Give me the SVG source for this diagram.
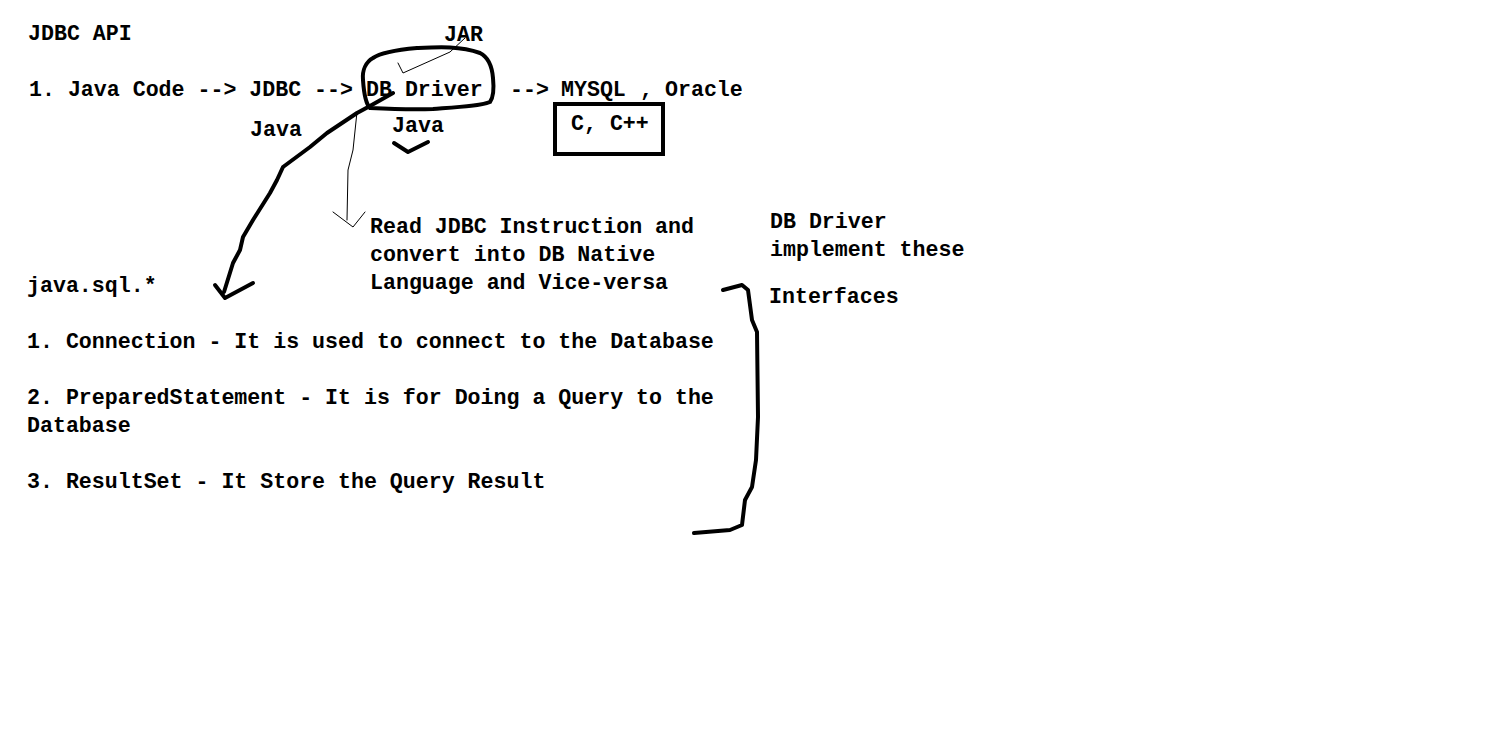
<svg xmlns="http://www.w3.org/2000/svg" width="1508" height="742" viewBox="0 0 1508 742">
<style>
  text { font-family: "Liberation Mono", "DejaVu Sans Mono", monospace; font-size: 21.6px; font-weight: bold; fill: #000; }
  .ink { fill: none; stroke: #000; stroke-width: 4; stroke-linecap: round; stroke-linejoin: round; }
  .thin { fill: none; stroke: #000; stroke-width: 1; stroke-linecap: round; stroke-linejoin: round; }
</style>
<rect width="1508" height="742" fill="#fff"/>

<g id="title"><text x="28" y="40">JDBC API</text></g>

<g id="flow-line">
  <text x="29" y="96">1. Java Code --&gt; JDBC --&gt;</text>
  <text x="366" y="96">DB Driver</text>
  <text x="510" y="96">--&gt;</text>
  <text x="561" y="96">MYSQL</text>
  <text x="640" y="96">,</text>
  <text x="665" y="96">Oracle</text>
</g>

<g id="jar"><text x="444" y="41">JAR</text></g>
<g id="java-left"><text x="250" y="136">Java</text></g>
<g id="java-right"><text x="392" y="132">Java</text></g>

<g id="db-driver-circle">
  <path class="ink" d="M373,58 C380,53 395,50 417,48 C440,47 460,46 480,53 C488,57 492,66 493,78 C494,88 493,98 490,102 C480,106 460,107 433,109 C410,110 390,109 370,108 C366,104 364,95 363,80 C362,70 366,62 373,58 Z"/>
</g>

<g id="cpp-box">
  <rect x="555" y="104" width="108" height="50" fill="none" stroke="#000" stroke-width="4"/>
  <text x="571" y="130">C, C++</text>
</g>

<g id="note-read"><text x="370" y="233">Read JDBC Instruction and</text>
<text x="370" y="261">convert into DB Native</text>
<text x="370" y="289">Language and Vice-versa</text></g>

<g id="note-driver"><text x="770" y="228">DB Driver</text>
<text x="770" y="256">implement these</text>
<text x="769" y="303">Interfaces</text></g>

<g id="java-sql">
  <text x="27" y="292">java.sql.*</text>
  <text x="27" y="348">1. Connection - It is used to connect to the Database</text>
  <text x="27" y="404">2. PreparedStatement - It is for Doing a Query to the</text>
  <text x="27" y="432">Database</text>
  <text x="27" y="488">3. ResultSet - It Store the Query Result</text>
</g>

<g id="connectors">
  <!-- JAR pointer -->
  <polyline class="thin" points="465,38 450,52 403,73 398,63"/>
  <!-- thick curve arrow from DB Driver to java.sql.* -->
  <path class="ink" d="M393,93 L370,106 L357,113 L327,133 L310,147 L283,167 L277,180 L270,193 L253,220 L243,237 L240,250 L233,263 L224,292"/>
  <polyline class="ink" points="215,285 225,298 253,283"/>
  <!-- thin arrow to Read note -->
  <polyline class="thin" points="357,112 353,150 348,170 347,220"/>
  <polyline class="thin" points="333,212 353,227 365,212"/>
  <!-- tick under Java -->
  <polyline class="ink" points="394,143 408,152 428,142"/>
  <!-- brace -->
  <path class="ink" d="M723,290 L742,285 L748,290 L752,320 L757,332 L758,417 L756,460 L752,487 L745,500 L742,525 L730,530 L694,533"/>
</g>
</svg>
